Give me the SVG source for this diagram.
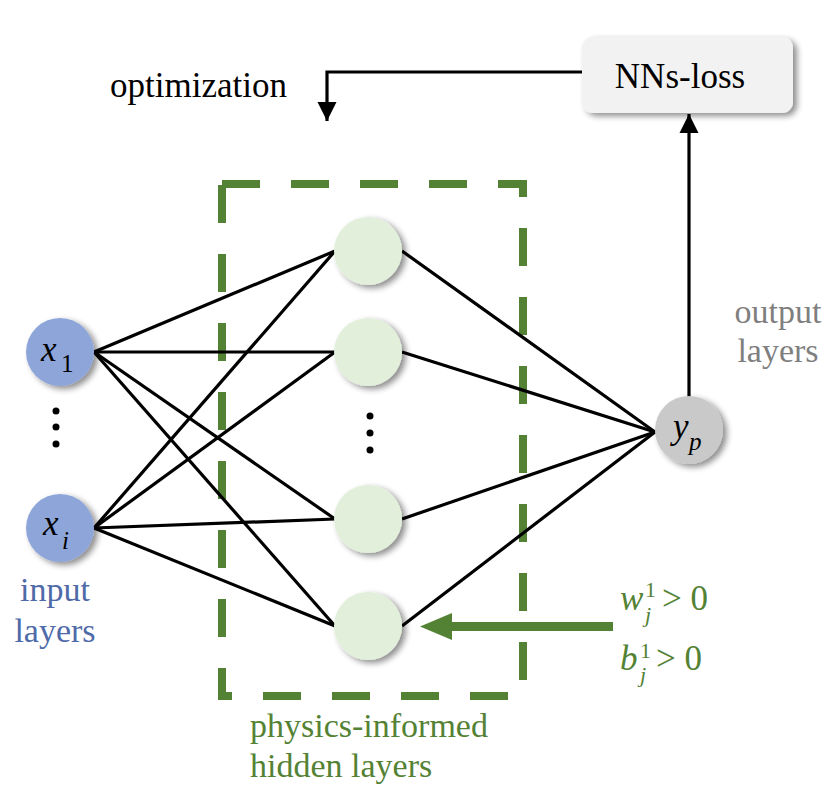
<svg xmlns="http://www.w3.org/2000/svg" width="837" height="795" viewBox="0 0 837 795">
<style>
.lbl{font-family:"Liberation Serif","Times New Roman",serif;}
.conn line,.conn path{stroke:#000;stroke-width:3.2;fill:none;}
.in{fill:#8ea5d9;}
.hid{fill:#e2efda;}
.out{fill:#c9c9c9;}
.green{fill:#548235;}
</style>
<defs>
<filter id="sh" x="-40%" y="-40%" width="180%" height="180%">
<feGaussianBlur in="SourceAlpha" stdDeviation="3"/>
<feOffset dx="4" dy="3" result="b"/>
<feComponentTransfer><feFuncA type="linear" slope="0.45"/></feComponentTransfer>
<feMerge><feMergeNode/><feMergeNode in="SourceGraphic"/></feMerge>
</filter>
<marker id="ah" viewBox="0 0 10 10" refX="10" refY="5" markerWidth="6" markerHeight="6" markerUnits="strokeWidth" orient="auto">
<path d="M0,0 L10,5 L0,10 z" fill="#000"/>
</marker>
</defs>
<rect width="837" height="795" fill="#fff"/>

<g id="hidden-box">
<rect x="222" y="184" width="301" height="512" fill="none" stroke="#548235" stroke-width="8" stroke-dasharray="38 31"/>
</g>

<g class="conn" id="connectors">
<line x1="94" y1="352" x2="335" y2="251"/>
<line x1="94" y1="352" x2="335" y2="352"/>
<line x1="94" y1="352" x2="335" y2="519"/>
<line x1="94" y1="352" x2="335" y2="626"/>
<line x1="94" y1="528" x2="335" y2="251"/>
<line x1="94" y1="528" x2="335" y2="352"/>
<line x1="94" y1="528" x2="335" y2="519"/>
<line x1="94" y1="528" x2="335" y2="626"/>
<line x1="402" y1="251" x2="655" y2="432"/>
<line x1="402" y1="352" x2="655" y2="432"/>
<line x1="402" y1="519" x2="655" y2="432"/>
<line x1="402" y1="626" x2="655" y2="432"/>
<line x1="689" y1="397" x2="689" y2="114" marker-end="url(#ah)"/>
<path d="M582,72 H327 V121" marker-end="url(#ah)"/>
</g>
<g id="constraint-arrow" class="green">
<rect x="446" y="622" width="167" height="9"/>
<path d="M420,626.5 L452,613 L452,640 z"/>
</g>

<g id="x1">
<circle cx="60" cy="352" r="34" class="in" filter="url(#sh)"/>
<text x="41" y="361" class="lbl" font-size="35" font-style="italic">x</text>
<text x="61" y="372" class="lbl" font-size="25">1</text>
</g>
<g id="input-dots" fill="#000">
<circle cx="56" cy="411" r="3.5"/>
<circle cx="56" cy="427" r="3.5"/>
<circle cx="56" cy="444" r="3.5"/>
</g>
<g id="xi">
<circle cx="60" cy="528" r="34" class="in" filter="url(#sh)"/>
<text x="43" y="535" class="lbl" font-size="35" font-style="italic">x</text>
<text x="62" y="549" class="lbl" font-size="25" font-style="italic">i</text>
</g>

<g id="h1"><circle cx="368" cy="251" r="34" class="hid" filter="url(#sh)"/></g>
<g id="h2"><circle cx="368" cy="352" r="34" class="hid" filter="url(#sh)"/></g>
<g id="hidden-dots" fill="#000">
<circle cx="370" cy="416" r="3.5"/>
<circle cx="370" cy="433" r="3.5"/>
<circle cx="370" cy="450" r="3.5"/>
</g>
<g id="h3"><circle cx="368" cy="519" r="34" class="hid" filter="url(#sh)"/></g>
<g id="h4"><circle cx="368" cy="626" r="34" class="hid" filter="url(#sh)"/></g>

<g id="yp">
<circle cx="689" cy="430" r="34" class="out" filter="url(#sh)"/>
<text x="673" y="438" class="lbl" font-size="35" font-style="italic">y</text>
<text x="689" y="450" class="lbl" font-size="25" font-style="italic">p</text>
</g>

<g id="nns-loss">
<rect x="582" y="37" width="211" height="76" rx="11" fill="#f2f2f2" filter="url(#sh)"/>
<text x="680" y="88" class="lbl" font-size="35" text-anchor="middle">NNs-loss</text>
</g>

<g id="labels">
<text x="110" y="97" class="lbl" font-size="35">optimization</text>
<text x="55" y="601" class="lbl" font-size="34" fill="#4f6aa8" text-anchor="middle">input</text>
<text x="55" y="642" class="lbl" font-size="34" fill="#4f6aa8" text-anchor="middle">layers</text>
<text x="778" y="323" class="lbl" font-size="34" fill="#7f7f7f" text-anchor="middle">output</text>
<text x="778" y="362" class="lbl" font-size="34" fill="#7f7f7f" text-anchor="middle">layers</text>
<text x="250" y="737" class="lbl" font-size="34" fill="#548235">physics-informed</text>
<text x="250" y="777" class="lbl" font-size="34" fill="#548235">hidden layers</text>
<g fill="#548235" class="lbl">
<text x="620" y="610" font-size="35" font-style="italic">w</text>
<text x="645" y="597" font-size="22">1</text>
<text x="645" y="622" font-size="22" font-style="italic">j</text>
<text x="662" y="610" font-size="35">&gt; 0</text>
<text x="620" y="670" font-size="35" font-style="italic">b</text>
<text x="640" y="658" font-size="22">1</text>
<text x="640" y="682" font-size="22" font-style="italic">j</text>
<text x="656" y="670" font-size="35">&gt; 0</text>
</g>
</g>
</svg>
